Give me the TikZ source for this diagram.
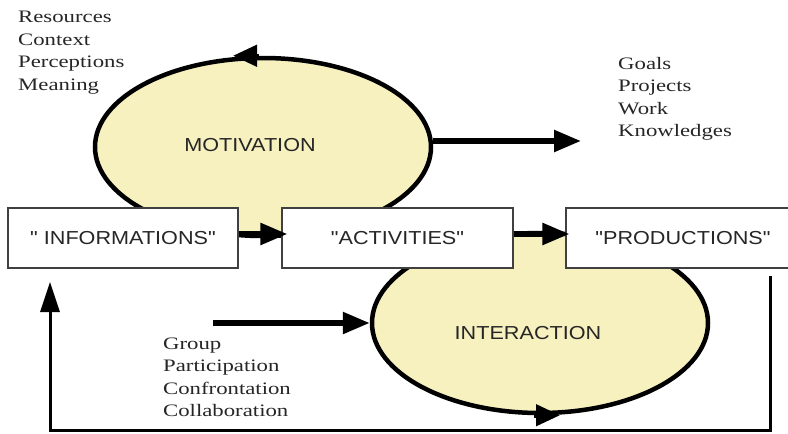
\documentclass[tikz,border=0pt]{standalone}
\usepackage{fontspec}
\setmainfont{Liberation Serif}
\newfontfamily\arialf{Liberation Sans}
\usetikzlibrary{arrows.meta,shapes.geometric}
\definecolor{elfill}{RGB}{247,241,192}
\newcommand\wide[1]{\scalebox{1.15}[1]{#1}}
\newcommand\wider[1]{\scalebox{1.3}[1]{#1}}
\begin{document}
\begin{tikzpicture}[x=1pt,y=-1pt,
  lbl/.style={font=\arialf\fontsize{18.8}{22}\selectfont, text=black!85},
  listtxt/.style={font=\fontsize{17.5}{22.5}\selectfont, align=left, anchor=north west, inner sep=0pt, text=black!85},
  boxn/.style={draw=black!75, line width=1.2pt, minimum height=60pt, fill=white, lbl, inner sep=0pt},
  loopell/.style={ellipse, draw=black, line width=4.5pt, fill=elfill, lbl, inner sep=0pt},
  bigarr/.style={line width=5.5pt, -{Triangle[length=27pt,width=21pt]}},
  looparr/.style={line width=4.5pt, -{Triangle[length=24pt,width=21pt]}},
  fbline/.style={line width=3pt, -{Triangle[length=30pt,width=19pt]}}
]
\useasboundingbox (0,0) rectangle (788,434);
\clip (0,0) rectangle (788,434);
\fill[white] (0,0) rectangle (788,434);

% ellipses
\node[loopell, minimum width=336pt, minimum height=178pt] (mot) at (263,147) {};
\node[lbl] (motl) at (250,145) {\wide{MOTIVATION}};
\node[loopell, minimum width=336pt, minimum height=180pt] (inter) at (540,323) {};
\node[lbl] (interl) at (528,333) {\wide{INTERACTION}};

% arrowheads on the loops
\draw[looparr] ([xshift=-4pt]mot.north) -- ([xshift=-30pt]mot.north);
\draw[looparr] ([xshift=-6pt]inter.south) -- ([xshift=20pt]inter.south);

% boxes
\node[boxn, minimum width=230pt] (info) at (123,238) {\wide{" INFORMATIONS"}};
\node[boxn, minimum width=231pt] (act) at (397.5,238) {\wide{"ACTIVITIES"}};
\node[boxn, minimum width=234pt] (prod) at (683,238) {\wide{"PRODUCTIONS"}};

% arrows between boxes
\draw[bigarr, shorten >=-6pt] ([yshift=4pt]info.east) -- ([yshift=4pt]act.west);
\draw[bigarr, shorten >=-4pt] ([yshift=4pt]act.east) -- ([yshift=4pt]prod.west);

% side lists
\node[listtxt] (res) at (18,11) {\wider{Resources}\\\wider{Context}\\\wider{Perceptions}\\\wider{Meaning}};
\node[listtxt] (goals) at (618,57) {\wider{Goals}\\\wider{Projects}\\\wider{Work}\\\wider{Knowledges}};
\node[listtxt] (grp) at (163,337.5) {\wider{Group}\\\wider{Participation}\\\wider{Confrontation}\\\wider{Collaboration}};

% motivation -> goals
\coordinate (goalend) at (581,141);
\draw[bigarr] ([yshift=6pt]mot.east) -- (goalend);

% group -> interaction
\coordinate (grpstart) at (213,323);
\draw[bigarr] (grpstart) -- (inter.west);

% feedback loop
\coordinate (fbs) at (770,276);
\coordinate (fbmid) at (400,430);
\coordinate (fbe) at (50,282);
\draw[fbline] (fbs) |- (fbmid) -| (fbe);
\end{tikzpicture}
\end{document}
